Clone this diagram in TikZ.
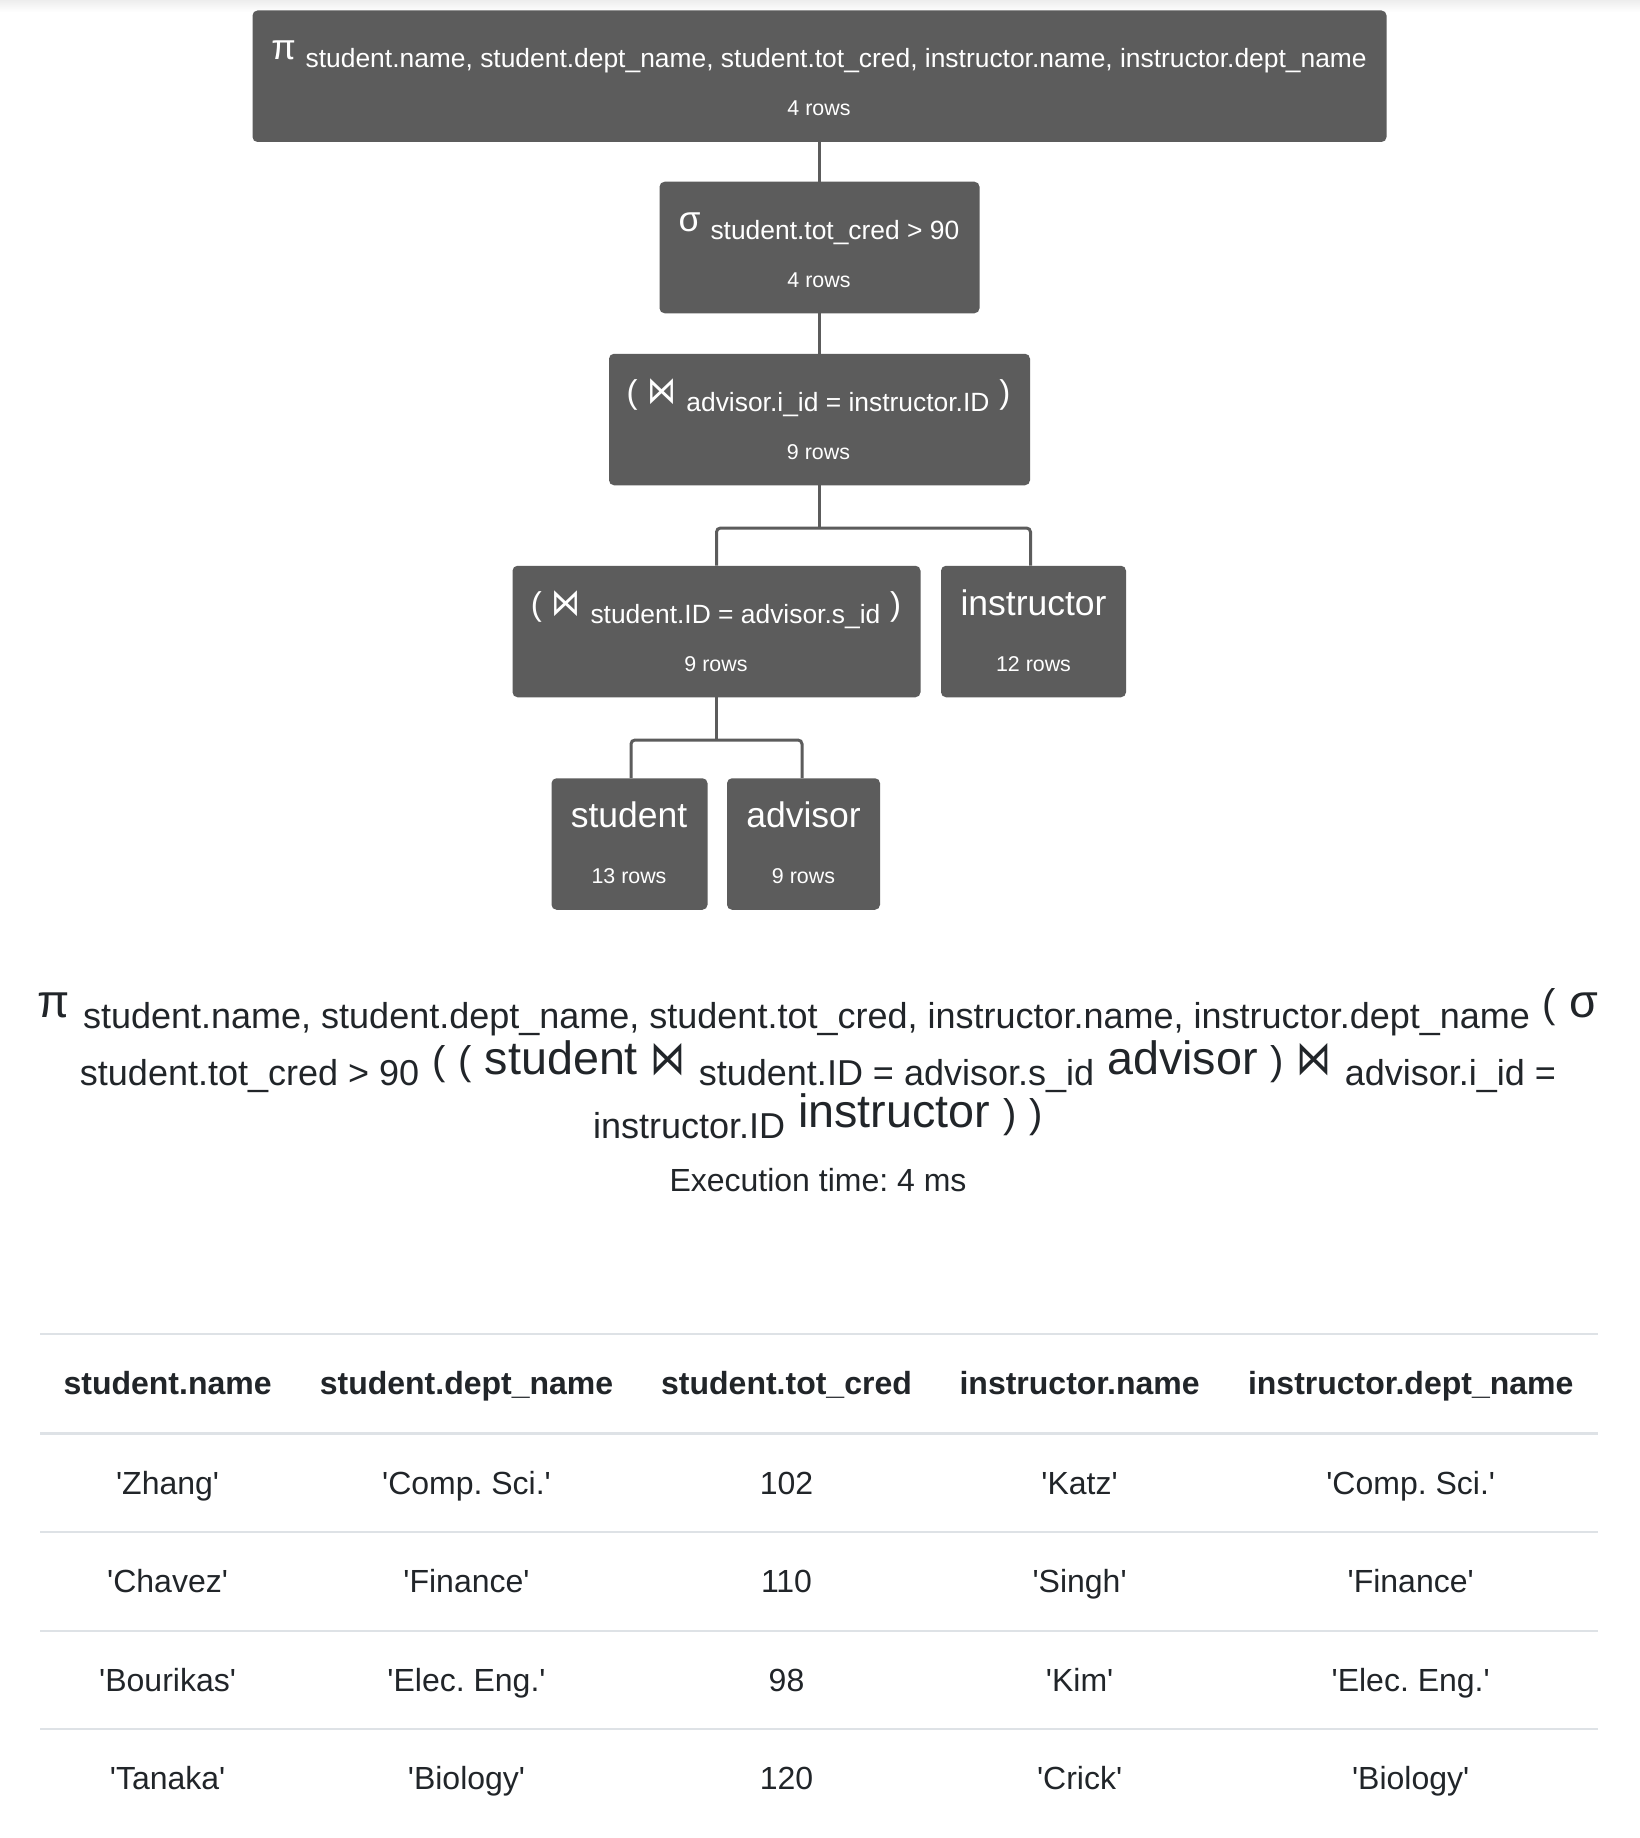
\documentclass[tikz,border=0pt]{standalone}
\usepackage{fontspec}
\usepackage{graphicx}
\setmainfont{Liberation Sans}
\newfontfamily\djv{DejaVu Sans}
\definecolor{boxgray}{RGB}{92,92,92}
\definecolor{ink}{RGB}{33,37,41}
\definecolor{rulec}{RGB}{222,226,230}
\newcommand\Bx{\fontsize{35.5}{40}\selectfont}
\newcommand\Sx{\fontsize{26.4}{30}\selectfont}
\newcommand\Px{\fontsize{33}{36}\selectfont}
\newcommand\Rx{\fontsize{21.4}{24}\selectfont}
\newcommand\sbx[1]{\raisebox{-8pt}{\Sx #1}}
\newcommand\Fb{\fontsize{46.7}{52}\selectfont}
\newcommand\Fs{\fontsize{36}{40}\selectfont}
\newcommand\Fp{\fontsize{40}{44}\selectfont}
\newcommand\sfx[1]{\raisebox{-11pt}{\Fs #1}}
\newcommand\Tx{\fontsize{32}{36}\selectfont}
\newcommand\bwtb{\scalebox{1}[1.3]{\djv\fontsize{29}{32}\selectfont ⋈}}
\newcommand\bwtf{\scalebox{1}[1.35]{\djv\fontsize{35}{38}\selectfont ⋈}}
\newcommand\qq[1]{\textquotesingle#1\textquotesingle}
\begin{document}
\frenchspacing
\begin{tikzpicture}[x=1pt,y=-1pt,
  opbox/.style={fill=boxgray, rounded corners=5pt, inner sep=0pt, minimum height=131.5pt},
  conn/.style={draw=boxgray, line width=3pt, rounded corners=4pt},
  wtxt/.style={text=white, inner sep=0pt, anchor=base},
  ftxt/.style={text=ink, inner sep=0pt, anchor=base},
  hrule/.style={draw=rulec, line width=2pt}]
\useasboundingbox (0,0) rectangle (1640,1838);
\fill[white] (0,0) rectangle (1640,1838);
\foreach \i in {0,...,11}{\pgfmathsetmacro\c{7*(1-\i/12)}\fill[black!\c] (0,\i) rectangle (1640,\i+1);}
% operator boxes
\node[opbox, minimum width=1134pt] (top) at (819.5,76.25) {};
\node[opbox, minimum width=320pt] (sig) at (819.5,247.5) {};
\node[opbox, minimum width=421pt] (j1) at (819.5,419.5) {};
\node[opbox, minimum width=408pt] (j2) at (716.5,631.5) {};
\node[opbox, minimum width=185pt] (ins) at (1033.5,631.5) {};
\node[opbox, minimum width=156pt] (stu) at (629.5,844) {};
\node[opbox, minimum width=153pt] (adv) at (803.5,844) {};
% texts in boxes
\node[wtxt] (topT) at (819,59.5) {\Bx π\ \sbx{student.name, student.dept\_name, student.tot\_cred, instructor.name, instructor.dept\_name}};
\node[wtxt] (topR) at (819,115.5) {\Rx 4 rows};
\node[wtxt] (sigT) at (819,231) {\Bx σ\ \sbx{student.tot\_cred > 90}};
\node[wtxt] (sigR) at (819,287.5) {\Rx 4 rows};
\node[wtxt] (j1T) at (818.5,403) {\Bx{\Px(}\ \bwtb\ \sbx{advisor.i\_id = instructor.ID}\ {\Px)}};
\node[wtxt] (j1R) at (818.5,459.5) {\Rx 9 rows};
\node[wtxt] (j2T) at (716,615) {\Bx{\Px(}\ \bwtb\ \sbx{student.ID = advisor.s\_id}\ {\Px)}};
\node[wtxt] (j2R) at (716,671.5) {\Rx 9 rows};
\node[wtxt] (insT) at (1033.5,615) {\Bx instructor};
\node[wtxt] (insR) at (1033.5,671.5) {\Rx 12 rows};
\node[wtxt] (stuT) at (629,827) {\Bx student};
\node[wtxt] (stuR) at (629,883.5) {\Rx 13 rows};
\node[wtxt] (advT) at (803.5,827) {\Bx advisor};
\node[wtxt] (advR) at (803.5,883.5) {\Rx 9 rows};
% connectors
\draw[conn] (top.south) -- (sig.north);
\draw[conn] (sig.south) -- (j1.north);
\coordinate (e1) at (819.5,528);
\coordinate (b1r) at (1030.5,528);
\draw[conn] (j1.south) -- (e1);
\draw[conn] (j2.north) -- (j2.north |- e1) -- (b1r) -- (b1r |- ins.north);
\coordinate (e2) at (716.5,740);
\coordinate (b2l) at (631,740);
\coordinate (b2r) at (802,740);
\draw[conn] (j2.south) -- (e2);
\draw[conn] (b2l |- stu.north) -- (b2l) -- (b2r) -- (b2r |- adv.north);
% formula
\node[ftxt] (f1) at (818,1017) {\Fb π\ \sfx{student.name, student.dept\_name, student.tot\_cred, instructor.name, instructor.dept\_name}\ {\Fp(}\ σ};
\node[ftxt] (f2) at (818,1074) {\Fb\sfx{student.tot\_cred > 90}\ {\Fp(}\ {\Fp(}\ student\ \bwtf\ \sfx{student.ID = advisor.s\_id}\ advisor\ {\Fp)}\ \bwtf\ \sfx{advisor.i\_id =}};
\node[ftxt] (f3) at (818,1127) {\Fb\sfx{instructor.ID}\ instructor\ {\Fp)}\ {\Fp)}};
\node[ftxt] (ex) at (818,1191) {\Tx Execution time: 4 ms};
% table
\draw[hrule] (40,1334) -- (1598,1334);
\foreach \x/\t [count=\k] in {167.6/student.name, 466.5/student.dept\_name, 786.5/student.tot\_cred, 1079.6/instructor.name, 1410.7/instructor.dept\_name}
  \node[ftxt, font=\Tx\bfseries] (h\k) at (\x,1394) {\t};
\draw[rulec, line width=3.5pt] (40,1433.7) -- (1598,1433.7);
\foreach \y/\a/\b/\n/\d/\e [count=\r] in {
  1494/Zhang/Comp. Sci./102/Katz/Comp. Sci.,
  1592.5/Chavez/Finance/110/Singh/Finance,
  1691/Bourikas/Elec. Eng./98/Kim/Elec. Eng.,
  1789.5/Tanaka/Biology/120/Crick/Biology}{
  \node[ftxt, font=\Tx] (r\r c1) at (167.6,\y) {\qq{\a}};
  \node[ftxt, font=\Tx] (r\r c2) at (466.5,\y) {\qq{\b}};
  \node[ftxt, font=\Tx] (r\r c3) at (786.5,\y) {\n};
  \node[ftxt, font=\Tx] (r\r c4) at (1079.6,\y) {\qq{\d}};
  \node[ftxt, font=\Tx] (r\r c5) at (1410.7,\y) {\qq{\e}};
}
\foreach \y in {1532,1630.5,1729}
  \draw[hrule] (40,\y) -- (1598,\y);
\end{tikzpicture}
\end{document}
